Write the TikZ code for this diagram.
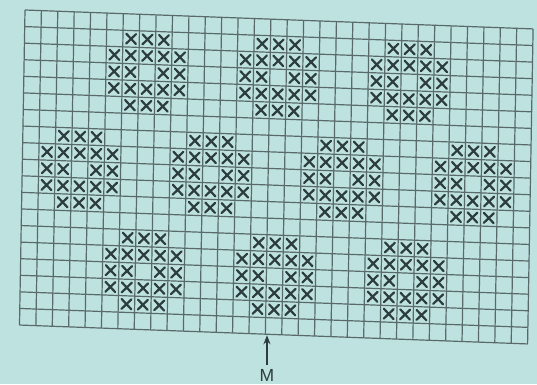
\documentclass[tikz,border=0pt]{standalone}
\usepackage{fontspec}
\setsansfont{Liberation Sans}
\usetikzlibrary{arrows.meta,calc}
\definecolor{paper}{RGB}{190,226,223}
\definecolor{gridc}{RGB}{88,106,106}
\definecolor{ink}{RGB}{45,60,62}
\tikzset{
  gridline/.style={draw=gridc, line width=1.2pt},
  xstitch/.style={draw=ink, line width=2.2pt, line cap=round},
  mlabel/.style={font=\sffamily\fontsize{17.5}{17.5}\selectfont, text=ink, inner sep=0pt},
  pointer/.style={draw=ink, line width=1.4pt, -{Stealth[length=9pt,width=7pt]}}
}
\begin{document}
\begin{tikzpicture}
\fill[paper] (0,0) rectangle (537pt,-384pt);
\useasboundingbox (0,0) rectangle (537pt,-384pt);
\begin{scope}[shift={(25pt,-10pt)}, x={(16.39pt,-0.61pt)}, y={(-0.29pt,-16.58pt)}]
  % grid 31 x 19
  \foreach \i in {0,...,31} \draw[gridline] (\i,0) -- (\i,19);
  \foreach \j in {0,...,19} \draw[gridline] (0,\j) -- (31,\j);
  % ring motifs
  \foreach \c/\r in {5/1,13/1,21/1,1/7,9/7,17/7,25/7,5/13,13/13,21/13} {
    \foreach \dx/\dy in {1/0,2/0,3/0,0/1,1/1,2/1,3/1,4/1,0/2,1/2,3/2,4/2,0/3,1/3,2/3,3/3,4/3,1/4,2/4,3/4} {
      \draw[xstitch] (\c+\dx+0.2,\r+\dy+0.2) -- (\c+\dx+0.8,\r+\dy+0.8)
                     (\c+\dx+0.2,\r+\dy+0.8) -- (\c+\dx+0.8,\r+\dy+0.2);
    }
  }
  \coordinate (mtarget) at (15.1,19);
\end{scope}
\node[mlabel] (M) at ([yshift=-41pt]mtarget) {M};
\draw[pointer] ([yshift=4pt]M.north) -- ([yshift=-1pt]mtarget);
\end{tikzpicture}
\end{document}
